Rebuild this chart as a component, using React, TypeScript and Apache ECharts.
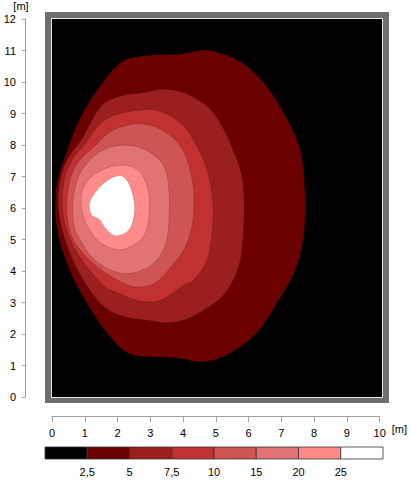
import React, { useEffect, useRef } from "react";
import * as echarts from "echarts";

// contour levels (lower bound of each filled band)
const levels = [2.5, 5, 7.5, 10, 15, 20, 25];
const levelLabels = ["2,5", "5", "7,5", "10", "15", "20", "25"];

// contour outlines [x m, y m]
const contour2_5 = [
  [2.11, 10.62], [2.82, 10.83], [3.83, 10.88], [4.33, 10.96], [4.74, 11.01], [5.24, 10.88],
  [5.85, 10.57], [6.45, 9.99], [7.06, 9.04], [7.57, 7.86], [7.72, 6.5], [7.72, 5.6],
  [7.61, 4.68], [7.36, 3.88], [6.86, 2.99], [6.25, 2.04], [5.45, 1.4], [4.64, 1.12],
  [3.83, 1.24], [3.12, 1.27], [2.31, 1.4], [1.61, 2.13], [1.05, 3.0], [0.55, 4.0],
  [0.22, 5.0], [0.1, 5.95], [0.17, 6.9], [0.42, 7.7], [0.8, 8.72], [1.4, 9.77],
];
const contour5 = [
  [0.9, 8.18], [1.51, 9.24], [2.11, 9.56], [2.82, 9.67], [3.32, 9.77], [3.83, 9.72],
  [4.33, 9.51], [4.84, 9.13], [5.24, 8.5], [5.55, 7.77], [5.75, 7.22], [5.85, 6.49],
  [5.85, 5.41], [5.75, 4.36], [5.55, 3.75], [5.2, 3.2], [4.7, 2.8], [4.1, 2.47],
  [3.52, 2.36], [2.82, 2.45], [2.21, 2.55], [1.7, 2.77], [1.3, 3.18], [0.95, 3.72],
  [0.6, 4.42], [0.35, 5.16], [0.2, 5.95], [0.25, 6.91], [0.5, 7.61],
];
const contour7_5 = [
  [1.0, 8.02], [1.39, 8.59], [1.82, 8.91], [2.42, 9.07], [3.03, 9.13], [3.52, 8.98],
  [4.03, 8.59], [4.42, 7.96], [4.73, 7.22], [4.91, 6.17], [4.88, 5.22], [4.73, 4.36],
  [4.33, 3.72], [4.03, 3.56], [3.52, 3.18], [3.12, 3.02], [2.52, 3.09], [2.0, 3.31],
  [1.61, 3.5], [1.21, 3.95], [0.8, 4.52], [0.5, 5.16], [0.32, 5.95], [0.38, 6.91],
  [0.62, 7.54],
];
const contour10 = [
  [1.3, 7.96], [1.81, 8.44], [2.42, 8.66], [2.82, 8.66], [3.32, 8.5], [3.83, 8.08],
  [4.12, 7.54], [4.3, 6.75], [4.33, 6.11], [4.27, 5.41], [4.03, 4.68], [3.64, 4.14],
  [3.12, 3.6], [2.52, 3.5], [1.82, 3.82], [1.3, 4.2], [0.85, 4.68], [0.58, 5.16],
  [0.45, 5.95], [0.52, 6.75], [0.75, 7.38],
];
const contour15 = [
  [1.55, 7.83], [2.11, 7.99], [2.67, 7.92], [3.12, 7.67], [3.42, 7.32], [3.55, 6.75],
  [3.58, 5.95], [3.48, 4.9], [3.12, 4.26], [2.52, 3.95], [1.91, 3.98], [1.3, 4.36],
  [0.91, 4.9], [0.68, 5.41], [0.64, 6.17], [0.78, 6.91], [1.09, 7.45],
];
const contour20 = [
  [1.3, 7.07], [2.0, 7.35], [2.61, 7.22], [2.88, 6.75], [2.97, 6.27], [2.91, 5.41],
  [2.72, 5.0], [2.12, 4.68], [1.52, 4.87], [1.09, 5.41], [0.91, 5.95], [0.94, 6.59],
];
const contour25 = [
  [1.96, 7.01], [2.21, 6.97], [2.42, 6.59], [2.52, 5.95], [2.36, 5.32], [1.96, 5.12],
  [1.66, 5.32], [1.45, 5.63], [1.2, 5.79], [1.15, 6.17], [1.35, 6.53], [1.61, 6.81],
];
const contours = [contour2_5, contour5, contour7_5, contour10, contour15, contour20, contour25];

// colours: band below 2.5, then one per level
const bandColors = ["#000000", "#6b0000", "#9c1f1f", "#c23131", "#cf5454", "#e27373", "#ff8a8a", "#ffffff"];

const FONT = "'Liberation Sans', Arial, sans-serif";

export default function App() {
  const ref = useRef<HTMLDivElement>(null);
  useEffect(() => {
    const chart = echarts.init(ref.current!, null, { renderer: "svg" });
    const txt = { fontFamily: FONT, fontSize: 11, color: "#000" };
    chart.setOption({
      animation: false,
      backgroundColor: "#ffffff",
      graphic: [
        { type: "rect", z: -10, silent: true, shape: { x: 45, y: 12, width: 344, height: 391 }, style: { fill: "#6e6e6e" } },
        { type: "rect", z: -9, silent: true, shape: { x: 51, y: 18, width: 332, height: 380 }, style: { fill: "#e6e6e6" } },
        { type: "rect", z: -8, silent: true, shape: { x: 52, y: 19, width: 330, height: 378 }, style: { fill: "#000000" } },
      ],
      grid: [
        { left: 52, top: 19, width: 330, height: 378 },
        { left: 45, top: 447, width: 338, height: 12 },
      ],
      xAxis: [
        {
          gridIndex: 0, type: "value", min: 0, max: 10, interval: 1, position: "bottom", offset: 19, z: 10,
          name: "[m]", nameLocation: "end", nameGap: 10,
          nameTextStyle: { ...txt, verticalAlign: "top", padding: [7, 0, 0, 0] },
          axisLine: { show: true, onZero: false, lineStyle: { color: "#a0a0a0", width: 1 } },
          axisTick: { show: true, length: 6, lineStyle: { color: "#a0a0a0" } },
          axisLabel: { ...txt, margin: 11 },
          splitLine: { show: false },
        },
        {
          gridIndex: 1, type: "value", min: 0, max: 8, interval: 1,
          axisLine: { show: false }, axisTick: { show: false }, splitLine: { show: false },
          axisLabel: {
            ...txt, margin: 7,
            formatter: (v: number) => (v >= 1 && v <= levelLabels.length ? levelLabels[v - 1] : ""),
          },
        },
      ],
      yAxis: [
        {
          gridIndex: 0, type: "value", min: 0, max: 12, interval: 1, position: "left", offset: 27, z: 10,
          name: "[m]", nameLocation: "end", nameGap: 8,
          nameTextStyle: { ...txt, padding: [0, 8, 0, 0] },
          axisLine: { show: true, onZero: false, lineStyle: { color: "#a0a0a0", width: 1 } },
          axisTick: { show: true, length: 3, lineStyle: { color: "#a0a0a0" } },
          axisLabel: { ...txt, margin: 9 },
          splitLine: { show: false },
        },
        { gridIndex: 1, type: "value", min: 0, max: 1, show: false },
      ],
      series: [
        {
          type: "custom", xAxisIndex: 0, yAxisIndex: 0, z: 5, clip: true,
          data: levels.map((lv, i) => [i, lv]),
          renderItem: (params: any, api: any) => {
            const idx = api.value(0);
            const pts = contours[idx].map((p) => api.coord(p));
            return {
              type: "polygon",
              shape: { points: pts, smooth: 0.35 },
              style: { fill: bandColors[idx + 1], stroke: "rgba(0,0,0,0.25)", lineWidth: 0.6 },
            };
          },
        },
        {
          type: "custom", xAxisIndex: 1, yAxisIndex: 1, z: 5,
          data: bandColors.map((c, i) => [i, 0]),
          renderItem: (params: any, api: any) => {
            const i = api.value(0);
            const p0 = api.coord([i, 1]);
            const p1 = api.coord([i + 1, 0]);
            return {
              type: "rect",
              shape: { x: p0[0], y: p0[1], width: p1[0] - p0[0], height: p1[1] - p0[1] },
              style: { fill: bandColors[i], stroke: "#333333", lineWidth: 0.8 },
            };
          },
        },
      ],
    });
    return () => chart.dispose();
  }, []);
  return <div ref={ref} style={{ position: "absolute", left: 0, top: 0, width: 410, height: 480 }} />;
}
